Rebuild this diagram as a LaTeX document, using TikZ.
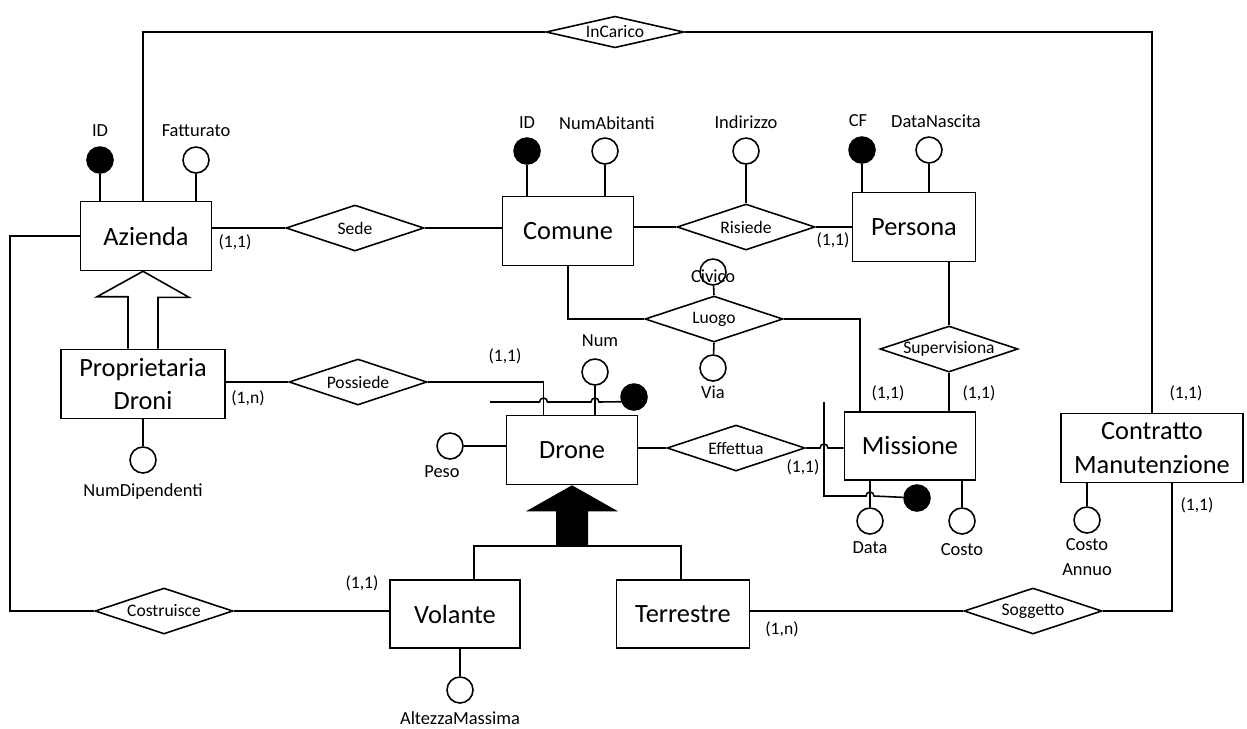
\documentclass[tikz,border=0pt]{standalone}
\usepackage{fontspec}
\setmainfont{Carlito}
\usetikzlibrary{shapes.geometric, positioning, calc}

\begin{document}
\begin{tikzpicture}[
    x=0.02cm, y=-0.02cm,
    line width=0.9pt,
    entity/.style={draw, fill=white, minimum width=2.62cm, minimum height=1.38cm, inner sep=1pt, align=center, font=\fontsize{15}{19}\selectfont},
    relation/.style={draw, fill=white, diamond, aspect=3, inner sep=0pt, minimum width=2.76cm, minimum height=0.92cm, font=\fontsize{10}{12}\selectfont},
    attr/.style={draw, fill=white, circle, minimum size=0.52cm, inner sep=0pt},
    keyattr/.style={attr, fill=black},
    attrname/.style={font=\fontsize{10.5}{14}\selectfont, inner sep=0pt, align=center},
    card/.style={font=\fontsize{10}{12}\selectfont, inner sep=0pt}
]
    \useasboundingbox (0,0) rectangle (1247,728);

    % Entities
    \node[entity] (azienda) at (146,236) {Azienda};
    \node[entity] (comune) at (568,231) {Comune};
    \node[entity, minimum width=2.46cm] (persona) at (914,227) {Persona};
    \node[entity, minimum width=3.28cm] (proprietaria) at (143,384) {Proprietaria\\Droni};
    \node[entity] (drone) at (572,450) {Drone};
    \node[entity, minimum height=1.36cm] (missione) at (910,446) {Missione};
    \node[entity, minimum width=3.64cm] (contratto) at (1152,448) {Contratto\\Manutenzione};
    \node[entity, minimum width=2.6cm, minimum height=1.36cm] (volante) at (455,614) {Volante};
    \node[entity, minimum width=2.66cm, minimum height=1.36cm] (terrestre) at (683,614) {Terrestre};

    % Relationships
    \node[relation, minimum height=0.6cm] (incarico) at (615,32) {InCarico};
    \node[relation] (sede) at (355,228) {Sede};
    \node[relation] (risiede) at (746,227) {Risiede};
    \node[relation] (luogo) at (714,319) {Luogo};
    \node[relation] (supervisiona) at (949,349) {Supervisiona};
    \node[relation] (possiede) at (358,382) {Possiede};
    \node[relation] (effettua) at (736,448) {Effettua};
    \node[relation] (costruisce) at (164,611) {Costruisce};
    \node[relation] (soggetto) at (1033,611) {Soggetto};

    % Attributes
    \node[keyattr] (azid) at (100,160) {};
    \node[attr] (fatturato) at (196,160) {};
    \node[keyattr] (comid) at (527,151) {};
    \node[attr] (numab) at (605,151) {};
    \node[attr] (indirizzo) at (746,151) {};
    \node[keyattr] (cf) at (862,150) {};
    \node[attr] (datanascita) at (929,150) {};
    \node[attr] (civico) at (713,272) {};
    \node[attr] (via) at (713,368) {};
    \node[attr] (num) at (595,372) {};
    \node[keyattr] (droneid) at (634,397) {};
    \node[attr] (peso) at (450,446) {};
    \node[attr] (numdip) at (143,460) {};
    \node[keyattr] (missid) at (917,498) {};
    \node[attr] (data) at (870,521) {};
    \node[attr] (costo) at (962,521) {};
    \node[attr] (costoannuo) at (1087,520) {};
    \node[attr] (altezza) at (460,690) {};

    % Attribute names
    \node[attrname] (azidtxt) at (100,131) {ID};
    \node[attrname] (fatturatotxt) at (196,131) {Fatturato};
    \node[attrname] (comidtxt) at (527,123) {ID};
    \node[attrname] (numabtxt) at (607,123) {NumAbitanti};
    \node[attrname] (indirizzotxt) at (746,122) {Indirizzo};
    \node[attrname] (cftxt) at (858,121) {CF};
    \node[attrname] (datanascitatxt) at (936,121) {DataNascita};
    \node[attrname] (civicotxt) at (713,276) {Civico};
    \node[attrname] (viatxt) at (713,392) {Via};
    \node[attrname] (numtxt) at (600,341) {Num};
    \node[attrname] (pesotxt) at (442,472) {Peso};
    \node[attrname] (numdiptxt) at (143,492) {NumDipendenti};
    \node[attrname] (datatxt) at (870,548) {Data};
    \node[attrname] (costotxt) at (962,550) {Costo};
    \node[attrname] (costoannuotxt) at (1087,557) {Costo\\Annuo};
    \node[attrname] (altezzatxt) at (460,718) {AltezzaMassima};

    % Attribute links
    \draw (azid) -- (azid |- azienda.north);
    \draw (fatturato) -- (fatturato |- azienda.north);
    \draw (comid) -- (comid |- comune.north);
    \draw (numab) -- (numab |- comune.north);
    \draw (indirizzo) -- (risiede.north);
    \draw (cf) -- (cf |- persona.north);
    \draw (datanascita) -- (datanascita |- persona.north);
    \draw (civico) -- (luogo.north);
    \draw (via) -- (luogo.south);
    \draw (num) -- (num |- drone.north);
    \draw (peso) -- (peso -| drone.west);
    \draw (numdip) -- (proprietaria.south);
    \draw (data) -- (data |- missione.south);
    \draw (costo) -- (costo |- missione.south);
    \draw (costoannuo) -- (costoannuo |- contratto.south);
    \draw (altezza) -- (altezza |- volante.south);

    % Relationship links
    \draw ([xshift=-0.06cm]azienda.north) |- (incarico.west);
    \draw (incarico.east) -| (contratto.north);
    \draw (sede.west) -- (sede.west -| azienda.east);
    \draw (sede.east) -- (sede.east -| comune.west);
    \draw (risiede.west) -- (risiede.west -| comune.east);
    \draw (risiede.east) -- (risiede.east -| persona.west);
    \draw (comune.south) |- (luogo.west);
    \draw (luogo.east) -| ([xshift=-1cm]missione.north);
    \draw (supervisiona.north) -- (supervisiona.north |- persona.south);
    \draw (supervisiona.south) -- (supervisiona.south |- missione.north);
    \draw (possiede.west) -- (possiede.west -| proprietaria.east);
    \draw (possiede.east) -| ([xshift=-0.57cm]drone.north);
    \draw (effettua.west) -- (effettua.west -| drone.east);
    \draw (effettua.east) -- (820,448) arc[start angle=180, end angle=0, radius=0.08cm] -- (missione.west |- effettua.east);
    \draw (azienda.west) -- ++(-70,0) |- (costruisce.west);
    \draw (costruisce.east) -- (costruisce.east -| volante.west);
    \draw (soggetto.west) -- (soggetto.west -| terrestre.east);
    \draw (soggetto.east) -| ([xshift=0.4cm]contratto.south);

    % Composite identifiers
    \coordinate (dronekey) at (490,402);
    \draw (dronekey) -- (539.5,402) arc[start angle=180, end angle=0, radius=0.08cm]
        -- (591,402) arc[start angle=180, end angle=0, radius=0.08cm] -- (droneid.200);
    \coordinate (misskey) at (824,402);
    \draw (misskey) -- (824,496) -- (866,496) arc[start angle=180, end angle=0, radius=0.08cm] -- (missid);

    % Generalizations
    \filldraw[fill=white] ([xshift=-0.3cm]proprietaria.north) -- ++(0,-52) -- ++(-31,0)
        -- (proprietaria.north |- azienda.south) -- ++(46,26) -- ++(-31,0) -- ([xshift=0.3cm]proprietaria.north);
    \fill (drone.south) -- ++(46,26) -- ++(-30,0) -- ++(0,35) -- ++(-32,0) -- ++(0,-35) -- ++(-30,0) -- cycle;
    \coordinate (droneisa) at (572,546);
    \draw ([xshift=0.38cm]volante.north) |- (droneisa) -| ([xshift=-0.04cm]terrestre.north);

    % Cardinalities
    \node[card] (cardazsede) at (235,242) {(1,1)};
    \node[card] (cardpersona) at (833,240) {(1,1)};
    \node[card] (cardprop) at (248,398) {(1,n)};
    \node[card] (carddrone) at (505,356) {(1,1)};
    \node[card] (cardmissluogo) at (888,393) {(1,1)};
    \node[card] (cardmisssup) at (979,393) {(1,1)};
    \node[card] (cardmisseff) at (803,467) {(1,1)};
    \node[card] (cardcontrtop) at (1186,393) {(1,1)};
    \node[card] (cardcontrbot) at (1197,505) {(1,1)};
    \node[card] (cardvolante) at (362,583) {(1,1)};
    \node[card] (cardterrestre) at (782,629) {(1,n)};

\end{tikzpicture}
\end{document}
